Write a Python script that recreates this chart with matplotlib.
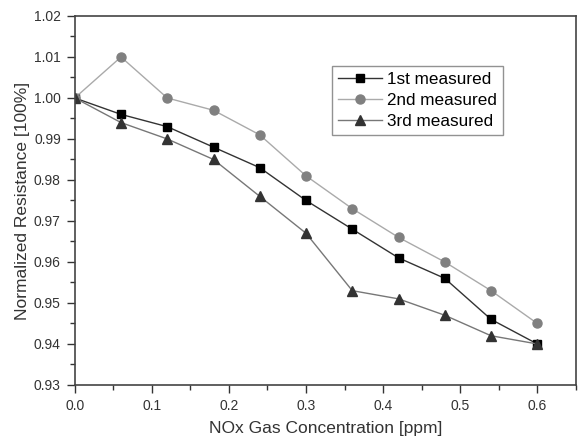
import numpy as np
import matplotlib.pyplot as plt
from matplotlib.ticker import MultipleLocator

plt.rcParams['font.family'] = ['Liberation Sans', 'DejaVu Sans']

conc = [0.0, 0.06, 0.12, 0.18, 0.24, 0.30, 0.36, 0.42, 0.48, 0.54, 0.60]
first = [1.000, 0.996, 0.993, 0.988, 0.983, 0.975, 0.968, 0.961, 0.956, 0.946, 0.940]
second = [1.000, 1.010, 1.000, 0.997, 0.991, 0.981, 0.973, 0.966, 0.960, 0.953, 0.945]
third = [1.000, 0.994, 0.990, 0.985, 0.976, 0.967, 0.953, 0.951, 0.947, 0.942, 0.940]
labels = ['1st measured', '2nd measured', '3rd measured']

fig = plt.figure(figsize=(5.84, 4.44), dpi=100)
ax = fig.add_axes([0.128, 0.133, 0.858, 0.831])

ax.plot(conc, first, color='#333333', lw=1, marker='s', ms=6,
        mfc='black', mec='black', label=labels[0])
ax.plot(conc, second, color='#aaaaaa', lw=1, marker='o', ms=6.5,
        mfc='#808080', mec='#808080', label=labels[1])
ax.plot(conc, third, color='#777777', lw=1, marker='^', ms=6.5,
        mfc='#333333', mec='#333333', label=labels[2])

ax.set_xlim(0, 0.65)
ax.set_ylim(0.93, 1.02)
ax.xaxis.set_major_locator(MultipleLocator(0.1))
ax.xaxis.set_minor_locator(MultipleLocator(0.05))
ax.yaxis.set_major_locator(MultipleLocator(0.01))
ax.yaxis.set_minor_locator(MultipleLocator(0.005))
ax.xaxis.set_major_formatter(plt.FormatStrFormatter('%.1f'))
ax.yaxis.set_major_formatter(plt.FormatStrFormatter('%.2f'))
ax.tick_params(which='major', length=6, width=1, labelsize=10, colors='#333333', pad=4)
ax.tick_params(which='minor', length=3.5, width=1, colors='#333333')
for s in ax.spines.values():
    s.set_color('#444444')
    s.set_linewidth(1.2)

ax.set_xlabel('NOx Gas Concentration [ppm]', fontsize=12.5, color='#333333', labelpad=6)
ax.set_ylabel('Normalized Resistance [100%]', fontsize=12.5, color='#333333', labelpad=3)

leg = ax.legend(loc='upper left', bbox_to_anchor=(0.513, 0.864), borderaxespad=0,
                fontsize=12.3, frameon=True, fancybox=False, edgecolor='#777777',
                handlelength=2.6, borderpad=0.35, labelspacing=0.35, handletextpad=0.3)
leg.get_frame().set_linewidth(1)

fig.savefig('out.png', dpi=100)
